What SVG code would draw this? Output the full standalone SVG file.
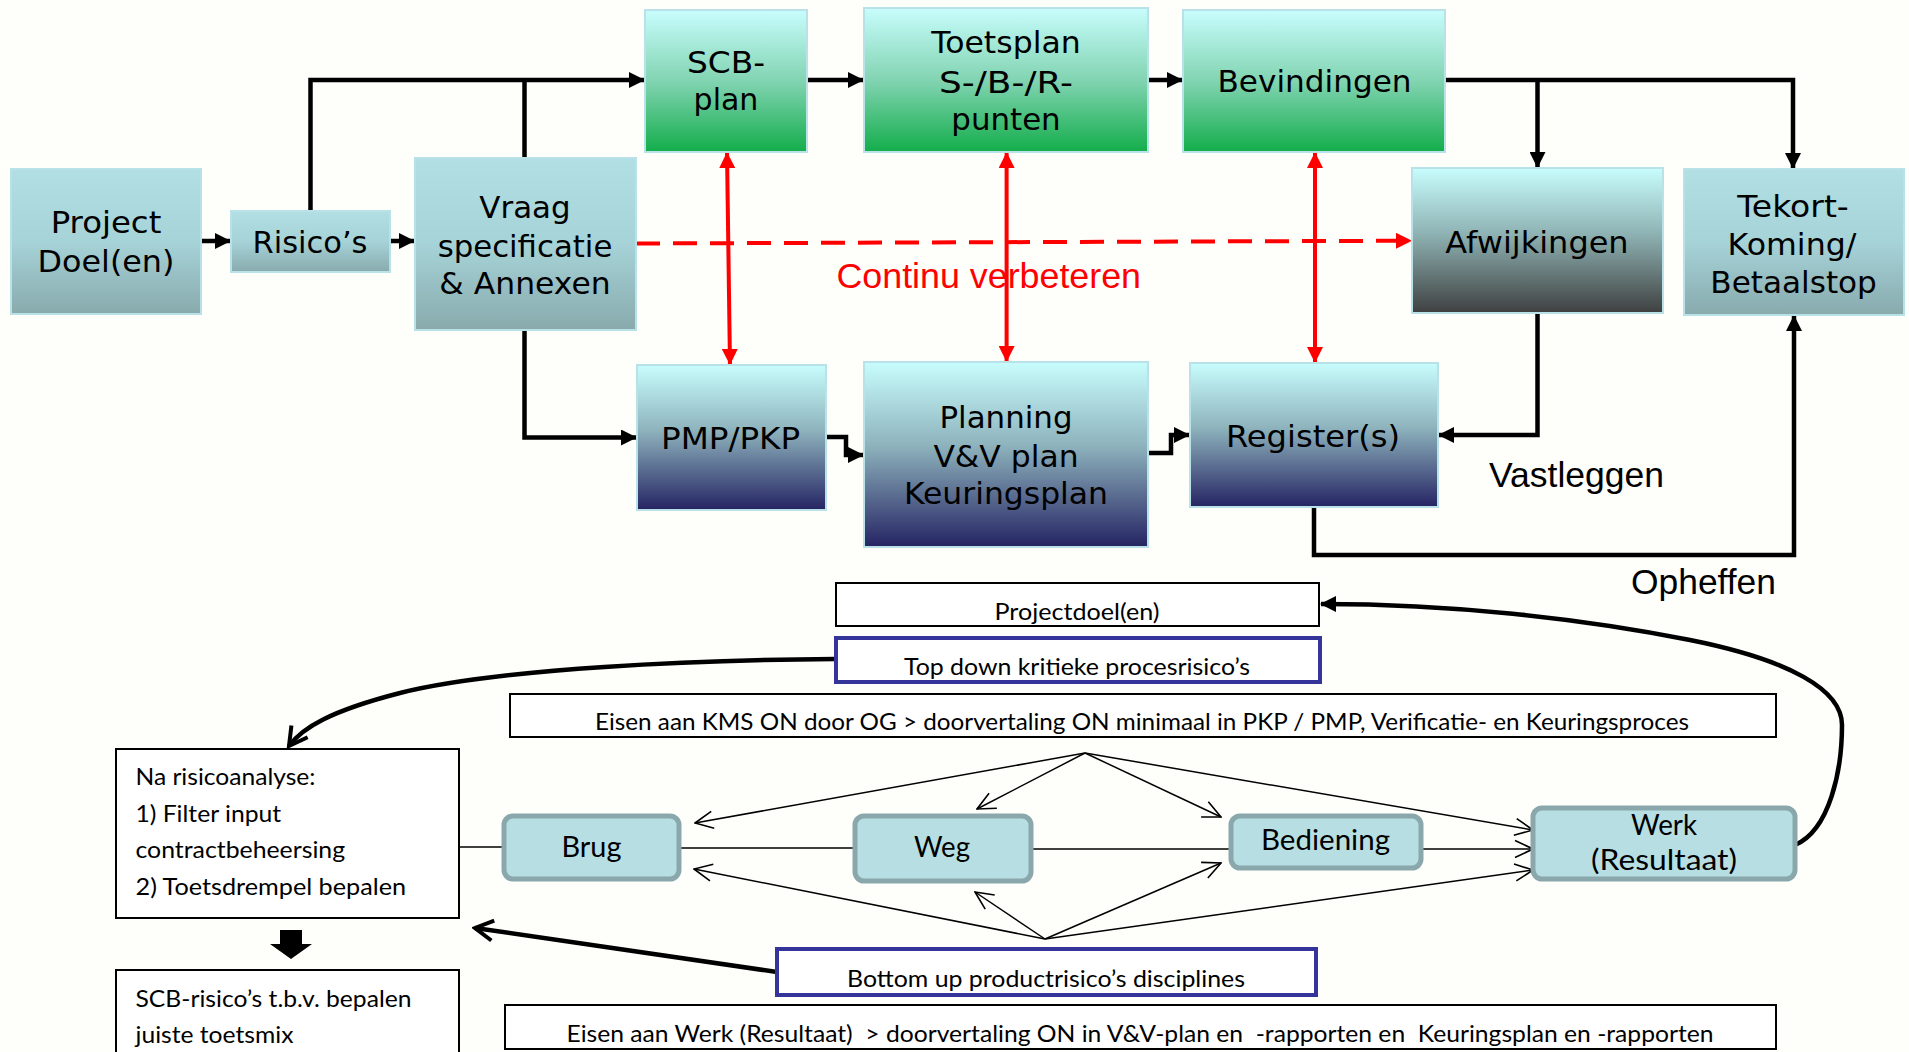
<svg xmlns="http://www.w3.org/2000/svg" width="1909" height="1052" viewBox="0 0 1909 1052">
<defs>
<linearGradient id="gTeal" x1="0" y1="0" x2="0" y2="1"><stop offset="0" stop-color="#b1dfe4"/><stop offset="0.5" stop-color="#a6d3d8"/><stop offset="1" stop-color="#88aaad"/></linearGradient>
<linearGradient id="gGreen" x1="0" y1="0" x2="0" y2="1"><stop offset="0" stop-color="#c8fdfd"/><stop offset="0.5" stop-color="#82d4b2"/><stop offset="1" stop-color="#13ad4b"/></linearGradient>
<linearGradient id="gGray" x1="0" y1="0" x2="0" y2="1"><stop offset="0" stop-color="#c8fdfd"/><stop offset="0.45" stop-color="#8fb3b4"/><stop offset="1" stop-color="#3f4040"/></linearGradient>
<linearGradient id="gNavy" x1="0" y1="0" x2="0" y2="1"><stop offset="0" stop-color="#c8fdfd"/><stop offset="0.45" stop-color="#8eb3bd"/><stop offset="1" stop-color="#252463"/></linearGradient>
<marker id="aBlk" viewBox="0 0 16 16" markerWidth="16" markerHeight="16" refX="16" refY="8" orient="auto" markerUnits="userSpaceOnUse"><path d="M0,0 L16,8 L0,16 z" fill="#000"/></marker>
<marker id="aRed" viewBox="0 0 16 16" markerWidth="16" markerHeight="16" refX="16" refY="8" orient="auto-start-reverse" markerUnits="userSpaceOnUse"><path d="M0,0 L16,8 L0,16 z" fill="#ff0000"/></marker>
<marker id="aOpen" viewBox="0 0 20 20" markerWidth="20" markerHeight="20" refX="19" refY="10" orient="auto" markerUnits="userSpaceOnUse"><path d="M1,1.5 L19,10 L1,18.5" fill="none" stroke="#000" stroke-width="1.6"/></marker>
<marker id="aThick" viewBox="0 0 24 24" markerWidth="24" markerHeight="24" refX="21" refY="12" orient="auto" markerUnits="userSpaceOnUse"><path d="M3,2 L21,12 L3,22" fill="none" stroke="#000" stroke-width="4"/></marker>
<marker id="aSmall" viewBox="0 0 16 16" markerWidth="16" markerHeight="16" refX="15" refY="8" orient="auto" markerUnits="userSpaceOnUse"><path d="M0,0 L16,8 L0,16 z" fill="#000"/></marker>
<style>
.box{stroke:#b8e2e7;stroke-width:2}
.t{font-family:"DejaVu Sans",Verdana,sans-serif;font-size:31px;text-anchor:middle;fill:#000}
.lbl{font-family:"Liberation Sans",Arial,sans-serif;font-size:35px;fill:#000}
.red{fill:#ff0000}
.c{font-family:Lato,"Open Sans",sans-serif;font-size:23px;fill:#000}
.cm{text-anchor:middle}
.n{font-family:Lato,"Open Sans",sans-serif;font-size:28px;text-anchor:middle;fill:#000}
.wb{fill:#ffffff;stroke:#000;stroke-width:2}
.bb{fill:#ffffff;stroke:#34349b;stroke-width:4}
.nd{fill:#b7dfe3;stroke:#8aa8ab;stroke-width:5}
.k{fill:none;stroke:#000;stroke-width:4.5}
.r{fill:none;stroke:#ff0000;stroke-width:4}
.th{fill:none;stroke:#000;stroke-width:1.5}
</style>
</defs>
<rect x="0" y="0" width="1909" height="1052" fill="#fefefb"/>

<g id="connectors">
<path class="k" d="M201,241 L231,241" marker-end="url(#aBlk)"/>
<path class="k" d="M390,241 L415,241" marker-end="url(#aBlk)"/>
<path class="k" d="M310.5,211 L310.5,80 L645,80" marker-end="url(#aBlk)"/>
<path class="k" d="M524.5,158 L524.5,80"/>
<path class="k" d="M807,80 L864,80" marker-end="url(#aBlk)"/>
<path class="k" d="M1148,80 L1183,80" marker-end="url(#aBlk)"/>
<path class="k" d="M1445,80 L1793,80 L1793,169" marker-end="url(#aBlk)"/>
<path class="k" d="M1537.5,80 L1537.5,168" marker-end="url(#aBlk)"/>
<path class="k" d="M524.5,330 L524.5,437.5 L637,437.5" marker-end="url(#aBlk)"/>
<path class="k" d="M826,437 L846,437 L846,455 L864,455" marker-end="url(#aBlk)"/>
<path class="k" d="M1148,453 L1171,453 L1171,435 L1190,435" marker-end="url(#aBlk)"/>
<path class="k" d="M1537.5,313 L1537.5,435 L1438,435" marker-end="url(#aBlk)"/>
<path class="k" d="M1314,507 L1314,555 L1794,555 L1794,315" marker-end="url(#aBlk)"/>
<path class="r" d="M636,243.5 L1412,240.7" stroke-width="5" stroke-dasharray="24 13" marker-end="url(#aRed)"/>
<path class="r" d="M727,152 L730,365" marker-start="url(#aRed)" marker-end="url(#aRed)"/>
<path class="r" d="M1006.6,152 L1006.6,362" marker-start="url(#aRed)" marker-end="url(#aRed)"/>
<path class="r" d="M1315,152 L1315,363" marker-start="url(#aRed)" marker-end="url(#aRed)"/>

<path class="k" d="M835,659 C700,660 500,668 400,693 C330,711 302,728 289,746" marker-end="url(#aThick)"/>
<path class="k" d="M777,972 L475,928" marker-end="url(#aThick)"/>
<path class="k" d="M1795,845 C1830,830 1842,770 1842,725 C1842,690 1790,660 1690,640 C1580,618 1450,604 1321,604" stroke-width="5" marker-end="url(#aSmall)"/>
<path d="M280,930 L302,930 L302,944 L312,944 L291,959 L270,944 L280,944 z" fill="#000"/>

<path class="th" d="M459,847 L504,847"/>
<path class="th" d="M679,848 L855,848"/>
<path class="th" d="M1031,849 L1231,849"/>
<path class="th" d="M1421,849 L1533,849" marker-end="url(#aOpen)"/>
<path class="th" d="M1085,753 L695,823" marker-end="url(#aOpen)"/>
<path class="th" d="M1085,753 L977,809" marker-end="url(#aOpen)"/>
<path class="th" d="M1085,753 L1221,817" marker-end="url(#aOpen)"/>
<path class="th" d="M1085,753 L1533,830" marker-end="url(#aOpen)"/>
<path class="th" d="M1045,939 L694,869" marker-end="url(#aOpen)"/>
<path class="th" d="M1045,939 L975,892" marker-end="url(#aOpen)"/>
<path class="th" d="M1045,939 L1221,863" marker-end="url(#aOpen)"/>
<path class="th" d="M1045,939 L1533,870" marker-end="url(#aOpen)"/>
</g>

<g id="project-doel">
<rect class="box" x="11" y="169" width="190" height="145" fill="url(#gTeal)"/>
<text class="t" x="106" y="233" textLength="110.7" lengthAdjust="spacingAndGlyphs">Project</text>
<text class="t" x="106" y="271.7" textLength="136.8" lengthAdjust="spacingAndGlyphs">Doel(en)</text>
</g>
<g id="risicos">
<rect class="box" x="231" y="211" width="159" height="61" fill="url(#gTeal)"/>
<text class="t" x="310" y="253" textLength="115" lengthAdjust="spacingAndGlyphs">Risico’s</text>
</g>
<g id="vraagspec">
<rect class="box" x="415" y="158" width="221" height="172" fill="url(#gTeal)"/>
<text class="t" x="525" y="218.3" textLength="91.3" lengthAdjust="spacingAndGlyphs">Vraag</text>
<text class="t" x="525" y="256.7" textLength="174.7" lengthAdjust="spacingAndGlyphs">specificatie</text>
<text class="t" x="525" y="294" textLength="171.3" lengthAdjust="spacingAndGlyphs">&amp; Annexen</text>
</g>
<g id="scb-plan">
<rect class="box" x="645" y="10" width="162" height="142" fill="url(#gGreen)"/>
<text class="t" x="726" y="72.7" textLength="78" lengthAdjust="spacingAndGlyphs">SCB-</text>
<text class="t" x="726" y="110" textLength="64.8" lengthAdjust="spacingAndGlyphs">plan</text>
</g>
<g id="toetsplan">
<rect class="box" x="864" y="8" width="284" height="144" fill="url(#gGreen)"/>
<text class="t" x="1006" y="53.3" textLength="149.4" lengthAdjust="spacingAndGlyphs">Toetsplan</text>
<text class="t" x="1006" y="92.7" textLength="133.8" lengthAdjust="spacingAndGlyphs">S-/B-/R-</text>
<text class="t" x="1006" y="130" textLength="109.4" lengthAdjust="spacingAndGlyphs">punten</text>
</g>
<g id="bevindingen">
<rect class="box" x="1183" y="10" width="262" height="142" fill="url(#gGreen)"/>
<text class="t" x="1314.5" y="91.7" textLength="194" lengthAdjust="spacingAndGlyphs">Bevindingen</text>
</g>
<g id="afwijkingen">
<rect class="box" x="1412" y="168" width="251" height="145" fill="url(#gGray)"/>
<text class="t" x="1537" y="253.3" textLength="183.3" lengthAdjust="spacingAndGlyphs">Afwijkingen</text>
</g>
<g id="tekortkoming">
<rect class="box" x="1684" y="169" width="220" height="146" fill="url(#gTeal)"/>
<text class="t" x="1793" y="216.7" textLength="111.5" lengthAdjust="spacingAndGlyphs">Tekort-</text>
<text class="t" x="1792" y="255" textLength="128.8" lengthAdjust="spacingAndGlyphs">Koming/</text>
<text class="t" x="1793.6" y="293.3" textLength="166.5" lengthAdjust="spacingAndGlyphs">Betaalstop</text>
</g>
<g id="pmp-pkp">
<rect class="box" x="637" y="365" width="189" height="145" fill="url(#gNavy)"/>
<text class="t" x="730.6" y="449" textLength="139" lengthAdjust="spacingAndGlyphs">PMP/PKP</text>
</g>
<g id="planning">
<rect class="box" x="864" y="362" width="284" height="185" fill="url(#gNavy)"/>
<text class="t" x="1006" y="428" textLength="133" lengthAdjust="spacingAndGlyphs">Planning</text>
<text class="t" x="1006" y="467" textLength="145.2" lengthAdjust="spacingAndGlyphs">V&amp;V plan</text>
<text class="t" x="1006" y="504" textLength="204.1" lengthAdjust="spacingAndGlyphs">Keuringsplan</text>
</g>
<g id="registers">
<rect class="box" x="1190" y="363" width="248" height="144" fill="url(#gNavy)"/>
<text class="t" x="1313" y="447" textLength="174" lengthAdjust="spacingAndGlyphs">Register(s)</text>
</g>

<g id="labels">
<text class="lbl red" x="836.5" y="288" textLength="304.5" lengthAdjust="spacingAndGlyphs">Continu verbeteren</text>
<text class="lbl" x="1489" y="487" textLength="175" lengthAdjust="spacingAndGlyphs">Vastleggen</text>
<text class="lbl" x="1631" y="594" textLength="145" lengthAdjust="spacingAndGlyphs">Opheffen</text>
</g>

<g id="projectdoelen">
<rect class="wb" x="836" y="583" width="483" height="43"/>
<text class="c cm" x="1077" y="620" textLength="165" lengthAdjust="spacingAndGlyphs">Projectdoel(en)</text>
</g>
<g id="topdown">
<rect class="bb" x="836" y="638" width="484" height="44"/>
<text class="c cm" x="1077" y="675" textLength="346" lengthAdjust="spacingAndGlyphs">Top down kritieke procesrisico’s</text>
</g>
<g id="eisen-kms">
<rect class="wb" x="510" y="694" width="1266" height="43"/>
<text class="c cm" x="1142" y="730" textLength="1094" lengthAdjust="spacingAndGlyphs">Eisen aan KMS ON door OG &gt; doorvertaling ON minimaal in PKP / PMP, Verificatie- en Keuringsproces</text>
</g>
<g id="na-risicoanalyse">
<rect class="wb" x="116" y="749" width="343" height="169"/>
<text class="c" x="135.5" y="785" font-size="22" textLength="180" lengthAdjust="spacingAndGlyphs">Na risicoanalyse:</text>
<text class="c" x="135.5" y="822" font-size="22" textLength="145.6" lengthAdjust="spacingAndGlyphs">1) Filter input</text>
<text class="c" x="135.5" y="858" font-size="22" textLength="209.6" lengthAdjust="spacingAndGlyphs">contractbeheersing</text>
<text class="c" x="135.5" y="895" font-size="22" textLength="270.6" lengthAdjust="spacingAndGlyphs">2) Toetsdrempel bepalen</text>
</g>
<g id="scb-risicos">
<rect class="wb" x="116" y="970" width="343" height="100"/>
<text class="c" x="135.5" y="1007" font-size="22" textLength="276" lengthAdjust="spacingAndGlyphs">SCB-risico’s t.b.v. bepalen</text>
<text class="c" x="135.5" y="1043" font-size="22" textLength="158" lengthAdjust="spacingAndGlyphs">juiste toetsmix</text>
</g>
<g id="brug">
<rect class="nd" x="504" y="816" width="175" height="63" rx="9"/>
<text class="n" x="591.5" y="857" textLength="60" lengthAdjust="spacingAndGlyphs">Brug</text>
</g>
<g id="weg">
<rect class="nd" x="855" y="816" width="176" height="65" rx="9"/>
<text class="n" x="942" y="857" textLength="56" lengthAdjust="spacingAndGlyphs">Weg</text>
</g>
<g id="bediening">
<rect class="nd" x="1231" y="816" width="190" height="52" rx="9"/>
<text class="n" x="1325.5" y="850" textLength="129" lengthAdjust="spacingAndGlyphs">Bediening</text>
</g>
<g id="werk">
<rect class="nd" x="1533" y="808" width="262" height="71" rx="9"/>
<text class="n" x="1664" y="835" textLength="66" lengthAdjust="spacingAndGlyphs">Werk</text>
<text class="n" x="1664" y="870" textLength="146" lengthAdjust="spacingAndGlyphs">(Resultaat)</text>
</g>
<g id="bottomup">
<rect class="bb" x="777" y="949" width="539" height="46"/>
<text class="c cm" x="1046" y="987" textLength="398" lengthAdjust="spacingAndGlyphs">Bottom up productrisico’s disciplines</text>
</g>
<g id="eisen-werk">
<rect class="wb" x="505" y="1005" width="1271" height="44"/>
<text class="c cm" x="1140" y="1042" textLength="1147" lengthAdjust="spacingAndGlyphs" xml:space="preserve">Eisen aan Werk (Resultaat)  &gt; doorvertaling ON in V&amp;V-plan en  -rapporten en  Keuringsplan en -rapporten</text>
</g>
</svg>
